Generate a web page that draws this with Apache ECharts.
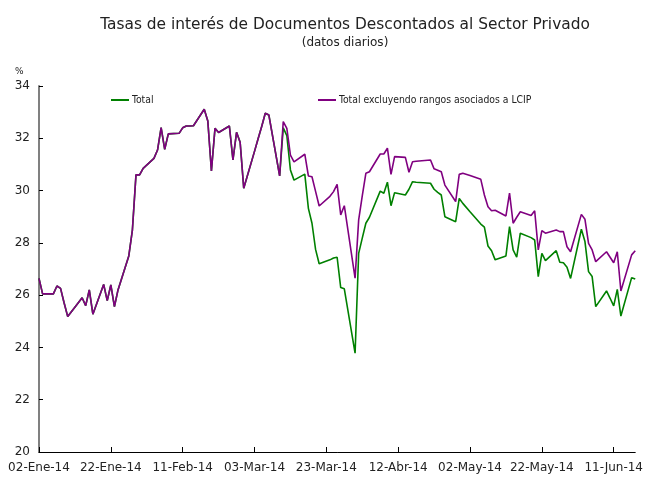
<!DOCTYPE html>
<html>
<head>
<meta charset="utf-8">
<script src="https://cdn.jsdelivr.net/npm/echarts@6/dist/echarts.min.js"></script>
<style>html,body{margin:0;padding:0;background:#fff}#c{width:646px;height:479px}</style>
</head>
<body>
<div id="c"></div>
<script>
// ---- data ----
var dates = ['2014-01-02','2014-01-03','2014-01-06','2014-01-07','2014-01-08','2014-01-09','2014-01-10',
'2014-01-13','2014-01-14','2014-01-15','2014-01-16','2014-01-17','2014-01-20','2014-01-21','2014-01-22','2014-01-23','2014-01-24',
'2014-01-27','2014-01-28','2014-01-29','2014-01-30','2014-01-31','2014-02-03','2014-02-04','2014-02-05','2014-02-06','2014-02-07',
'2014-02-10','2014-02-11','2014-02-12','2014-02-13','2014-02-14','2014-02-17','2014-02-18','2014-02-19','2014-02-20','2014-02-21',
'2014-02-24','2014-02-25','2014-02-26','2014-02-27','2014-02-28','2014-03-03','2014-03-04','2014-03-05','2014-03-06','2014-03-07',
'2014-03-10','2014-03-11','2014-03-12','2014-03-13','2014-03-14','2014-03-17','2014-03-18','2014-03-19','2014-03-20','2014-03-21',
'2014-03-24','2014-03-25','2014-03-26','2014-03-27','2014-03-28','2014-03-31','2014-04-01','2014-04-02','2014-04-03','2014-04-04',
'2014-04-07','2014-04-08','2014-04-09','2014-04-10','2014-04-11','2014-04-14','2014-04-15','2014-04-16','2014-04-17',
'2014-04-21','2014-04-22','2014-04-23','2014-04-24','2014-04-25','2014-04-28','2014-04-29','2014-04-30','2014-05-02',
'2014-05-05','2014-05-06','2014-05-07','2014-05-08','2014-05-09','2014-05-12','2014-05-13','2014-05-14','2014-05-15','2014-05-16',
'2014-05-19','2014-05-20','2014-05-21','2014-05-22','2014-05-23','2014-05-26','2014-05-27','2014-05-28','2014-05-29','2014-05-30',
'2014-06-02','2014-06-03','2014-06-04','2014-06-05','2014-06-06','2014-06-09','2014-06-10','2014-06-11','2014-06-12','2014-06-13',
'2014-06-16','2014-06-17'];

var totalValues = [26.64,26.05,26.05,26.35,26.26,25.70,25.18,
25.72,25.90,25.60,26.20,25.27,26.41,25.79,26.39,25.56,26.20,
27.50,28.49,30.60,30.60,30.85,31.23,31.55,32.41,31.58,32.17,
32.19,32.40,32.47,32.47,32.48,33.11,32.66,30.75,32.38,32.22,
32.47,31.17,32.23,31.85,30.09,31.50,31.98,32.45,32.96,32.89,
30.56,32.40,32.10,30.79,30.40,30.63,29.32,28.75,27.75,27.20,
27.35,27.42,27.45,26.29,26.24,23.78,27.60,28.18,28.75,28.98,
29.98,29.90,30.32,29.42,29.92,29.83,30.05,30.34,30.32,
30.28,30.05,29.93,29.83,29.00,28.81,29.70,29.51,29.19,
28.72,28.60,27.88,27.70,27.35,27.50,28.62,27.73,27.45,28.37,
28.20,28.11,26.71,27.60,27.32,27.70,27.26,27.24,27.07,26.64,
28.52,28.05,26.90,26.71,25.56,26.16,25.88,25.59,26.22,25.20,
26.67,26.62];

var exclValues = [26.64,26.05,26.05,26.35,26.26,25.70,25.18,
25.72,25.90,25.60,26.20,25.27,26.41,25.79,26.39,25.56,26.20,
27.50,28.49,30.60,30.60,30.85,31.23,31.55,32.41,31.58,32.17,
32.19,32.40,32.47,32.47,32.48,33.11,32.66,30.75,32.38,32.22,
32.47,31.17,32.23,31.85,30.09,31.50,31.98,32.45,32.96,32.89,
30.56,32.64,32.38,31.36,31.10,31.39,30.56,30.53,29.97,29.41,
29.78,29.96,30.24,29.07,29.42,26.65,28.88,29.80,30.66,30.72,
31.40,31.40,31.62,30.62,31.30,31.27,30.70,31.10,31.12,
31.17,30.83,30.78,30.72,30.21,29.58,30.62,30.66,30.58,
30.43,29.83,29.38,29.23,29.25,29.03,29.90,28.75,28.98,29.19,
29.05,29.23,27.73,28.47,28.37,28.49,28.43,28.43,27.85,27.66,
29.09,28.90,27.98,27.73,27.28,27.66,27.45,27.24,27.66,26.16,
27.54,27.70];

var seriesNames = ['Total', 'Total excluyendo rangos asociados a LCIP'];
var xTickLabels = ['02-Ene-14','22-Ene-14','11-Feb-14','03-Mar-14','23-Mar-14','12-Abr-14','02-May-14','22-May-14','11-Jun-14'];
var startDate = '2014-01-02';
var endDate = '2014-06-17';

// ---- helpers ----
function dayIndex(s) {
  var p = s.split('-');
  var a = Date.UTC(+p[0], +p[1] - 1, +p[2]);
  var q = startDate.split('-');
  var b = Date.UTC(+q[0], +q[1] - 1, +q[2]);
  return Math.round((a - b) / 86400000);
}
var tickStep = 20;
var tickValues = xTickLabels.map(function (_, i) { return i * tickStep; });
function pairs(vals) { return dates.map(function (d, i) { return [dayIndex(d), vals[i]]; }); }

var chart = echarts.init(document.getElementById('c'), null, {renderer: 'canvas'});
var txt = '#222';
var narrow = "'DejaVu Sans Condensed', 'Liberation Sans', sans-serif";
chart.setOption({
  animation: false,
  backgroundColor: '#fff',
  title: [{
    text: 'Tasas de interés de Documentos Descontados al Sector Privado',
    subtext: '(datos diarios)',
    left: 340, textAlign: 'center', top: 12, itemGap: 5,
    textStyle: {fontFamily: 'DejaVu Sans', fontSize: 15.4, fontWeight: 'normal', color: txt},
    subtextStyle: {fontFamily: 'DejaVu Sans', fontSize: 12, color: txt}
  }],
  legend: [{
    data: [seriesNames[0]], left: 106, top: 90, icon: 'rect', itemWidth: 18, itemHeight: 2, itemGap: 4,
    textStyle: {fontFamily: narrow, fontSize: 10.3, color: txt, padding: [0,0,0,-2]}
  }, {
    data: [seriesNames[1]], left: 313, top: 90, icon: 'rect', itemWidth: 18, itemHeight: 2, itemGap: 4,
    textStyle: {fontFamily: narrow, fontSize: 10.3, color: txt, padding: [0,0,0,-2]}
  }],
  graphic: [{type: 'text', left: 15, top: 67, style: {text: '%', fontSize: 9, fontFamily: 'DejaVu Sans', fill: txt}}],
  grid: {left: 39, right: 5, top: 86, bottom: 27, containLabel: false},
  xAxis: {
    type: 'value', min: 0, max: dayIndex(endDate),
    axisLine: {lineStyle: {color: '#000', width: 1}},
    axisTick: {inside: true, length: 5, lineStyle: {color: '#000'}, customValues: tickValues},
    axisLabel: {customValues: tickValues, margin: 10, fontFamily: 'DejaVu Sans', fontSize: 12, color: txt,
      formatter: function (v) { return xTickLabels[Math.round(v / tickStep)] || ''; }},
    splitLine: {show: false}
  },
  yAxis: {
    type: 'value', min: 20, max: 34, interval: 2,
    axisLine: {show: true, lineStyle: {color: '#808080', width: 2}},
    axisTick: {show: true, inside: true, length: 4, lineStyle: {color: '#000'}},
    axisLabel: {margin: 9, fontFamily: 'DejaVu Sans', fontSize: 12, color: txt},
    splitLine: {show: false}
  },
  series: [{
    name: seriesNames[0], type: 'line', data: pairs(totalValues), showSymbol: false,
    color: '#008000', lineStyle: {color: '#008000', width: 1.6}
  }, {
    name: seriesNames[1], type: 'line', data: pairs(exclValues), showSymbol: false,
    color: '#800080', lineStyle: {color: '#800080', width: 1.6}
  }]
});
</script>
</body>
</html>
